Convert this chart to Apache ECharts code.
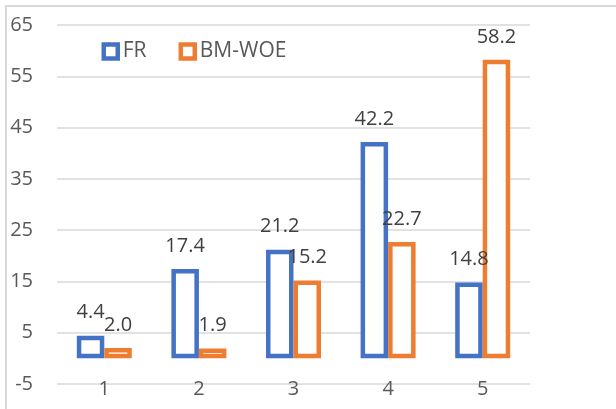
<!DOCTYPE html>
<html>
<head>
<meta charset="utf-8">
<script src="https://cdn.jsdelivr.net/npm/echarts@6/dist/echarts.min.js"></script>
<style>
  html, body { margin: 0; padding: 0; background: #ffffff; }
  #chart { width: 616px; height: 409px; }
</style>
</head>
<body>
<div id="chart"></div>
<script>
// Categories along the x axis
const categories = ['1', '2', '3', '4', '5'];
// Series values
const frValues = [4.4, 17.4, 21.2, 42.2, 14.8];
const bmWoeValues = [2.0, 1.9, 15.2, 22.7, 58.2];
// Value axis range and step
const yMin = -5;
const yMax = 65;
const yStep = 10;

const FONT = '"Open Sans", "Noto Sans", sans-serif';
const BLUE = '#4472c4';
const ORANGE = '#ed7d31';

const chart = echarts.init(document.getElementById('chart'), null, { renderer: 'canvas' });

// Hollow bar: white fill with a thick coloured outline, value printed above
function outlinedBar(name, values, color) {
  return {
    name: name,
    type: 'bar',
    data: values,
    barWidth: 27.5,
    barGap: '0%',
    itemStyle: { color: '#ffffff', borderColor: color, borderWidth: 4.5 },
    label: {
      show: true,
      position: 'top',
      distance: 13,
      color: '#404040',
      fontFamily: FONT,
      fontSize: 20,
      formatter: p => p.value.toFixed(1)
    },
    emphasis: { disabled: true },
    animation: false
  };
}

chart.setOption({
  animation: false,
  backgroundColor: '#ffffff',
  graphic: [{
    type: 'rect',
    shape: { x: 6, y: 6, width: 700, height: 500 },
    style: { fill: 'none', stroke: '#d9d9d9', lineWidth: 2 },
    silent: true,
    z: -10
  }],
  legend: {
    left: 101.5,
    top: 41,
    padding: 0,
    itemWidth: 14,
    itemHeight: 14,
    itemGap: 32,
    icon: 'rect',
    itemStyle: { borderWidth: 4.5 },
    textStyle: { color: '#595959', fontFamily: FONT, fontSize: 21 },
    data: ['FR', 'BM-WOE']
  },
  grid: { left: 57, right: 86, top: 25, bottom: 25, containLabel: false },
  xAxis: {
    type: 'category',
    data: categories,
    axisLine: { show: false },
    axisTick: { show: false },
    axisLabel: { color: '#595959', fontFamily: FONT, fontSize: 20, margin: -5 }
  },
  yAxis: {
    type: 'value',
    min: yMin,
    max: yMax,
    interval: yStep,
    axisLine: { show: false },
    axisTick: { show: false },
    axisLabel: { color: '#595959', fontFamily: FONT, fontSize: 20, margin: 24 },
    splitLine: { lineStyle: { color: '#d9d9d9', width: 1.5 } }
  },
  series: [
    outlinedBar('FR', frValues, BLUE),
    outlinedBar('BM-WOE', bmWoeValues, ORANGE)
  ]
});
</script>
</body>
</html>
